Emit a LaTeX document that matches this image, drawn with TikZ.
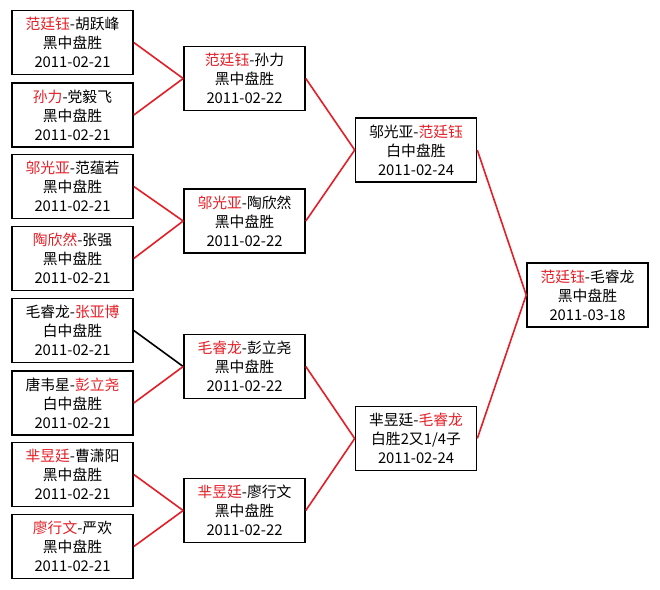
\documentclass[tikz,border=0pt]{standalone}
\usepackage{fontspec}
\setmainfont{Noto Sans CJK SC}
\definecolor{winred}{RGB}{228,30,38}
\tikzset{
  game/.style={draw, rectangle, line width=1.6pt, align=center, minimum width=121pt, minimum height=64pt, inner sep=0pt, font=\fontsize{14.8pt}{19pt}\selectfont},
  win/.style={draw=winred, line width=1.6pt},
  lose/.style={draw=black, line width=1.6pt}
}
\newcommand{\wn}[1]{\textcolor{winred}{#1}}
\begin{document}
\begin{tikzpicture}[x=1pt,y=-1pt]
\useasboundingbox (0,0) rectangle (660,589);
% first round
\node[game] (a1) at (72.5,42.5) {\wn{范廷钰}-胡跃峰\\黑中盘胜\\2011-02-21};
\node[game] (a2) at (72.5,115) {\wn{孙力}-党毅飞\\黑中盘胜\\2011-02-21};
\node[game] (a3) at (72.5,186.5) {\wn{邬光亚}-范蕴若\\黑中盘胜\\2011-02-21};
\node[game] (a4) at (72.5,258.5) {\wn{陶欣然}-张强\\黑中盘胜\\2011-02-21};
\node[game] (a5) at (72.5,330.5) {毛睿龙-\wn{张亚博}\\白中盘胜\\2011-02-21};
\node[game] (a6) at (72.5,403) {唐韦星-\wn{彭立尧}\\白中盘胜\\2011-02-21};
\node[game] (a7) at (72.5,474.5) {\wn{芈昱廷}-曹潇阳\\黑中盘胜\\2011-02-21};
\node[game] (a8) at (72.5,546.5) {\wn{廖行文}-严欢\\黑中盘胜\\2011-02-21};
% second round
\node[game] (b1) at (244.5,78.5) {\wn{范廷钰}-孙力\\黑中盘胜\\2011-02-22};
\node[game] (b2) at (244.5,221) {\wn{邬光亚}-陶欣然\\黑中盘胜\\2011-02-22};
\node[game] (b3) at (244.5,366.5) {\wn{毛睿龙}-彭立尧\\黑中盘胜\\2011-02-22};
\node[game] (b4) at (244.5,510.5) {\wn{芈昱廷}-廖行文\\黑中盘胜\\2011-02-22};
% semifinals
\node[game] (c1) at (416,150) {邬光亚-\wn{范廷钰}\\白中盘胜\\2011-02-24};
\node[game] (c2) at (416,438.5) {芈昱廷-\wn{毛睿龙}\\白胜2又1/4子\\2011-02-24};
% final
\node[game] (d1) at (587.5,295) {\wn{范廷钰}-毛睿龙\\黑中盘胜\\2011-03-18};
\draw[win] (a1.east) -- (b1.west);
\draw[win] (a2.east) -- (b1.west);
\draw[win] (a3.east) -- (b2.west);
\draw[win] (a4.east) -- (b2.west);
\draw[lose] (a5.east) -- (b3.west);
\draw[win] (a6.east) -- (b3.west);
\draw[win] (a7.east) -- (b4.west);
\draw[win] (a8.east) -- (b4.west);
\draw[win] (b1.east) -- (c1.west);
\draw[win] (b2.east) -- (c1.west);
\draw[win] (b3.east) -- (c2.west);
\draw[win] (b4.east) -- (c2.west);
\draw[win] (c1.east) -- (d1.west);
\draw[win] (c2.east) -- (d1.west);
\end{tikzpicture}
\end{document}
